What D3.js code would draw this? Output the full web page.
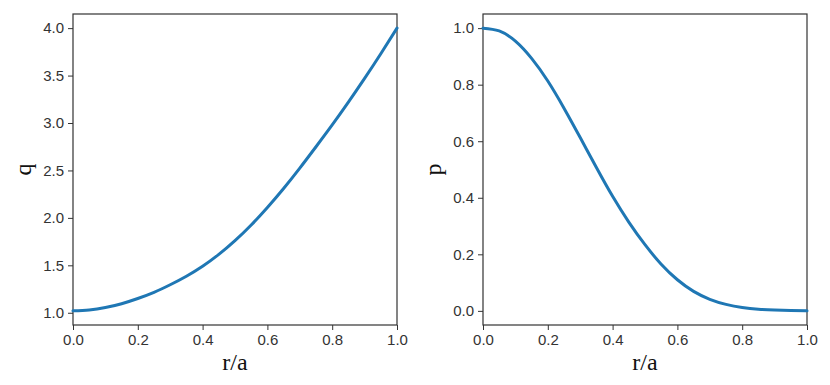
<!DOCTYPE html>
<html>
<head>
<meta charset="utf-8">
<script src="https://cdn.jsdelivr.net/npm/d3@7"></script>
<style>
  body { margin: 0; background: #fff; }
  .tick text { font-family: "Liberation Sans", Arial, sans-serif; font-size: 15px; fill: #333; }
  .tick line { stroke: #333; }
  .ax-label { font-family: "Liberation Serif", "Times New Roman", serif; font-size: 24px; fill: #111; }
</style>
</head>
<body>
<script>
// data
const rA = [0, 0.05, 0.1, 0.15, 0.2, 0.25, 0.3, 0.35, 0.4, 0.45, 0.5,
            0.55, 0.6, 0.65, 0.7, 0.75, 0.8, 0.85, 0.9, 0.95, 1.0];
const qVals = [1.02, 1.03, 1.055, 1.095, 1.15, 1.215, 1.295, 1.385, 1.49, 1.615, 1.76,
               1.925, 2.11, 2.31, 2.525, 2.75, 2.98, 3.22, 3.47, 3.73, 4.00];
const pVals = [1.0, 0.99, 0.954, 0.893, 0.813, 0.717, 0.613, 0.507, 0.405, 0.314, 0.234,
               0.165, 0.11, 0.069, 0.041, 0.023, 0.012, 0.006, 0.003, 0.001, 0.0];
const xTicks = [0, 0.2, 0.4, 0.6, 0.8, 1.0];
const qTicks = [1.0, 1.5, 2.0, 2.5, 3.0, 3.5, 4.0];
const pTicks = [0, 0.2, 0.4, 0.6, 0.8, 1.0];

let width = 830, height = 385;
let plotTop = 14, plotBottom = 325;

const svg = d3.select("body").append("svg")
  .attr("width", width)
  .attr("height", height);

function panel(left, right, yVals, yTicks, yLabel, labelX) {
  let lo = d3.min(yVals), hi = d3.max(yVals);
  let pad = (hi - lo) * 0.05;

  const x = d3.scaleLinear().domain([0, 1]).range([left, right]);
  const y = d3.scaleLinear().domain([lo - pad, hi + pad]).range([plotBottom, plotTop]);

  const g = svg.append("g");

  // frame
  g.append("rect")
    .attr("x", left).attr("y", plotTop)
    .attr("width", right - left).attr("height", plotBottom - plotTop)
    .attr("fill", "none").attr("stroke", "#333").attr("stroke-width", 1.2);

  g.append("g")
    .attr("transform", `translate(0,${plotBottom})`)
    .call(d3.axisBottom(x).tickValues(xTicks).tickFormat(d3.format(".1f")).tickSize(5).tickPadding(4))
    .call(a => a.select(".domain").remove());

  g.append("g")
    .attr("transform", `translate(${left},0)`)
    .call(d3.axisLeft(y).tickValues(yTicks).tickFormat(d3.format(".1f")).tickSize(5).tickPadding(4))
    .call(a => a.select(".domain").remove());

  // the curve
  const line = d3.line()
    .x((d, i) => x(rA[i]))
    .y(d => y(d))
    .curve(d3.curveNatural);

  g.append("path")
    .datum(yVals)
    .attr("d", line)
    .attr("fill", "none")
    .attr("stroke", "#1f77b4")
    .attr("stroke-width", 3)
    .attr("stroke-linecap", "round");

  g.append("text")
    .attr("class", "ax-label")
    .attr("x", (left + right) / 2)
    .attr("y", 370)
    .attr("text-anchor", "middle")
    .text("r/a");

  g.append("text")
    .attr("class", "ax-label")
    .attr("transform", `translate(${labelX},${(plotTop + plotBottom) / 2}) rotate(-90)`)
    .attr("text-anchor", "middle")
    .text(yLabel);
}

panel(73, 397, qVals, qTicks, "q", 31);
panel(483, 807, pVals, pTicks, "p", 441);
</script>
</body>
</html>
